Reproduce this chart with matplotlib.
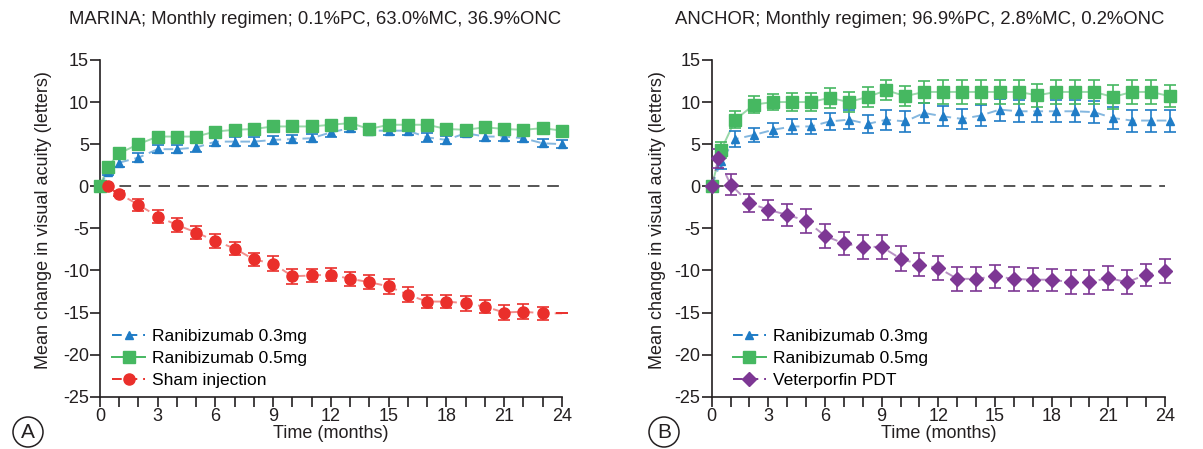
import numpy as np
import matplotlib
matplotlib.use("Agg")
import matplotlib.pyplot as plt
from matplotlib.lines import Line2D
from matplotlib.patches import Ellipse

plt.rcParams['font.family'] = ['Liberation Sans', 'DejaVu Sans']
plt.rcParams['axes.unicode_minus'] = False

# MARINA
m_t = [0, 0.4] + list(range(1, 25))
m_03 = [0, 1.7, 2.8, 3.4, 4.4, 4.4, 4.6, 5.3, 5.3, 5.3, 5.5, 5.6, 5.7, 6.4, 6.9, 6.6,
        6.6, 6.6, 5.8, 5.5, 6.3, 5.9, 5.9, 5.7, 5.1, 5.0]
m_03_err = [0.2, 0.4] + [0.5] * 24
m_05 = [0, 2.3, 3.9, 5.0, 5.9, 5.9, 5.9, 6.5, 6.7, 6.8, 7.1, 7.1, 7.1, 7.3, 7.5, 6.8,
        7.3, 7.3, 7.3, 6.8, 6.7, 7.0, 6.8, 6.7, 6.9, 6.6]
m_05_err = [0.2, 0.4] + [0.5] * 24
sham = [0, 0, -0.9, -2.2, -3.6, -4.6, -5.5, -6.5, -7.4, -8.7, -9.2, -10.7, -10.6, -10.5,
        -11.0, -11.4, -11.9, -12.9, -13.7, -13.7, -13.9, -14.3, -15.0, -14.9, -15.1, -15.1]
sham_err = [0, 0.2, 0.3, 0.7, 0.8, 0.8, 0.8, 0.8, 0.8, 0.8, 0.9, 0.9, 0.8, 0.8, 0.8,
            0.8, 0.9, 0.9, 0.8, 0.8, 0.9, 0.8, 0.9, 0.9, 0.8, 0]

# ANCHOR
a_t = [0, 0.5] + [m + 0.25 for m in range(1, 25)]
a_03 = [0, 3.0, 5.6, 6.1, 6.7, 7.1, 7.1, 7.7, 7.9, 7.4, 7.9, 7.7, 8.7, 8.3, 8.0, 8.4,
        9.1, 8.9, 8.9, 8.9, 8.9, 8.8, 8.1, 7.8, 7.8, 7.8]
a_03_err = [0.3, 0.9, 1.0, 0.8, 0.8, 0.9, 0.9, 1.0, 1.1, 1.1, 1.2, 1.2, 1.2, 1.2, 1.2,
            1.3, 1.3, 1.3, 1.3, 1.3, 1.3, 1.3, 1.3, 1.3, 1.3, 1.3]
a_05 = [0, 4.3, 7.9, 9.7, 10.0, 10.0, 10.0, 10.5, 10.0, 10.6, 11.4, 10.7, 11.2, 11.2,
        11.2, 11.2, 11.2, 11.2, 10.8, 11.2, 11.2, 11.2, 10.6, 11.2, 11.2, 10.7]
a_05_err = [0.2, 0.9, 1.0, 1.0, 1.0, 1.1, 1.1, 1.2, 1.2, 1.2, 1.2, 1.2, 1.3, 1.4, 1.4,
            1.4, 1.4, 1.4, 1.4, 1.4, 1.4, 1.4, 1.4, 1.4, 1.4, 1.3]
pdt_t = [0, 0.35] + list(range(1, 25))
pdt = [0, 3.3, 0.2, -2.0, -2.8, -3.4, -4.1, -5.9, -6.8, -7.2, -7.2, -8.6, -9.3, -9.7,
       -11.0, -11.0, -10.7, -11.0, -11.1, -11.1, -11.4, -11.4, -10.9, -11.4, -10.5, -10.1]
pdt_err = [0, 1.1, 1.2, 1.1, 1.2, 1.3, 1.4, 1.4, 1.4, 1.4, 1.4, 1.5, 1.4, 1.4, 1.4,
           1.4, 1.4, 1.4, 1.4, 1.3, 1.4, 1.4, 1.4, 1.4, 1.3, 1.4]

titles = ["MARINA; Monthly regimen; 0.1%PC, 63.0%MC, 36.9%ONC",
          "ANCHOR; Monthly regimen; 96.9%PC, 2.8%MC, 0.2%ONC"]
ylab = "Mean change in visual acuity (letters)"
xlab = "Time (months)"

BLUE = '#1f7cc6'
GREEN = '#46b861'
RED = '#ea2f2b'
PURPLE = '#7d3794'
TXT = '#231f20'

fig = plt.figure(figsize=(12.03, 4.49), dpi=100)
ax1 = fig.add_axes([0.0831, 0.1165, 0.384, 0.75])
ax2 = fig.add_axes([0.5916, 0.1165, 0.3768, 0.75])


def series(ax, t, y, e, color, marker, ms, ls, label, markevery=None):
    ax.errorbar(t, y, yerr=e, color=color, ecolor=color, elinewidth=1.2, capsize=4,
                capthick=1.2, fmt='none', clip_on=False, zorder=3)
    ax.plot(t, y, color=color, lw=1.4, ls=ls, alpha=0.55, clip_on=False, zorder=2)
    ax.plot(t, y, color=color, lw=0, marker=marker, ms=ms, clip_on=False, zorder=4,
            markevery=markevery)
    return Line2D([], [], color=color, lw=1.4, ls=ls, marker=marker, ms=ms, label=label)


def style(ax, ylab_x):
    ax.set_xlim(0, 24)
    ax.set_ylim(-25, 15)
    for s in ['top', 'right']:
        ax.spines[s].set_visible(False)
    for s in ['left', 'bottom']:
        ax.spines[s].set_linewidth(1.2)
        ax.spines[s].set_color(TXT)
    ax.set_xticks(range(0, 25, 3))
    ax.set_xticks(range(0, 25), minor=True)
    ax.set_yticks(range(-25, 16, 5))
    ax.tick_params(axis='both', which='both', direction='out', length=7, width=1.2,
                   colors=TXT, labelsize=13, pad=1)
    ax.tick_params(axis='x', which='both', length=7, pad=1)
    ax.axhline(0, xmin=0, xmax=1, color='#555555', lw=1.4, ls=(0, (6, 4)), zorder=1)
    ax.set_xlabel(xlab, fontsize=13, color=TXT, labelpad=0)
    ax.set_ylabel(ylab, fontsize=13, color=TXT)
    ax.yaxis.set_label_coords(ylab_x, 0.525)


leg_kw = dict(loc='lower left', frameon=False, fontsize=12.5, handlelength=1.9,
              handletextpad=0.4, labelspacing=0.4, borderaxespad=0.3)

style(ax1, -0.104)
h1 = series(ax1, m_t, m_03, m_03_err, BLUE, '^', 6, (0, (5, 3)), 'Ranibizumab 0.3mg')
h2 = series(ax1, m_t, m_05, m_05_err, GREEN, 's', 9, '-', 'Ranibizumab 0.5mg')
h3 = series(ax1, m_t, sham, sham_err, RED, 'o', 8, (0, (5, 3)), 'Sham injection',
            markevery=list(range(1, 25)))
ax1.legend(handles=[h1, h2, h3], bbox_to_anchor=(0.0, -0.01), **leg_kw)

style(ax2, -0.101)
g1 = series(ax2, a_t, a_03, a_03_err, BLUE, '^', 6, (0, (5, 3)), 'Ranibizumab 0.3mg')
g2 = series(ax2, a_t, a_05, a_05_err, GREEN, 's', 9, '-', 'Ranibizumab 0.5mg')
g3 = series(ax2, pdt_t, pdt, pdt_err, PURPLE, 'D', 7.5, (0, (5, 3)), 'Veterporfin PDT')
ax2.legend(handles=[g1, g2, g3], bbox_to_anchor=(0.02, -0.01), **leg_kw)

fig.text(315 / 1203, 1 - 20 / 449, titles[0], ha='center', va='center', fontsize=13.3, color=TXT)
fig.text(920 / 1203, 1 - 20 / 449, titles[1], ha='center', va='center', fontsize=13.3, color=TXT)

for cx, letter in [(28, 'A'), (664, 'B')]:
    fig.patches.append(Ellipse((cx / 1203, 1 - 432 / 449), 30 / 1203, 30 / 449,
                               transform=fig.transFigure, fill=False, ec=TXT, lw=1.1))
    fig.text(cx / 1203, 1 - 432 / 449, letter, ha='center', va='center', fontsize=15, color=TXT)

fig.savefig('out.png', dpi=100)
